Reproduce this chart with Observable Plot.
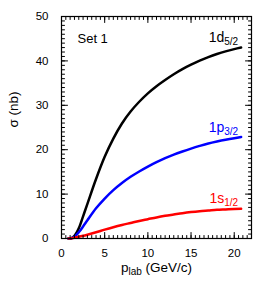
<!DOCTYPE html>
<html>
<head>
<meta charset="utf-8">
<script src="https://cdn.jsdelivr.net/npm/d3@7"></script>
<script src="https://cdn.jsdelivr.net/npm/@observablehq/plot@0.6"></script>
<style>
  html, body { margin: 0; padding: 0; background: #fff; }
  svg { display: block; }
</style>
</head>
<body>
<div id="chart"></div>
<script>
// ---- data ----
const pLab = [0.8, 1.1, 1.5, 2, 2.5, 3, 4, 5, 6, 7, 8, 9, 10, 11, 12, 13, 14, 15, 16, 17, 18, 19, 20, 20.8];
const sigma1d52 = [0, 0, 0.6, 2.3, 5.0, 7.8, 13.4, 18.4, 22.5, 25.9, 28.6, 30.8, 32.7, 34.3, 35.7, 37.0, 38.15, 39.15, 40.05, 40.85, 41.55, 42.15, 42.65, 43.0];
const sigma1p32 = [0, 0.05, 0.4, 1.4, 2.7, 4.1, 6.8, 9.0, 10.9, 12.5, 13.9, 15.1, 16.2, 17.2, 18.1, 18.9, 19.6, 20.25, 20.85, 21.4, 21.85, 22.25, 22.6, 22.85];
const sigma1s12 = [0, 0.05, 0.15, 0.4, 0.6, 0.85, 1.4, 2.0, 2.55, 3.05, 3.5, 3.95, 4.35, 4.75, 5.1, 5.4, 5.7, 5.95, 6.15, 6.3, 6.45, 6.55, 6.65, 6.7];

const seriesNames = ["1d5/2", "1p3/2", "1s1/2"];
const seriesMain = ["1d", "1p", "1s"];
const seriesSub = ["5/2", "3/2", "1/2"];
const seriesColors = ["#000000", "#0000ff", "#ff0000"];
const seriesValues = [sigma1d52, sigma1p32, sigma1s12];

const xMajorTicks = [0, 5, 10, 15, 20];
const yMajorTicks = [0, 10, 20, 30, 40, 50];
const xMinorTicks = d3.range(0, 22.01, 0.5);
const yMinorTicks = d3.range(0, 50.01, 1);
const setLabel = "Set 1";
const xLabel = "p_lab (GeV/c)";
const yLabel = "σ (nb)";

// ---- build table ----
const rows = [];
seriesNames.forEach((name, i) => {
  pLab.forEach((p, j) => rows.push({series: name, p, s: seriesValues[i][j]}));
});
const ends = seriesNames.map((name, i) => ({
  name, main: seriesMain[i], sub: seriesSub[i], color: seriesColors[i],
  p: pLab[pLab.length - 1], s: seriesValues[i][pLab.length - 1]
}));

const tickShape = {draw(ctx, l) { ctx.moveTo(0, 0); ctx.lineTo(0, -l); }};
const vt = (vals, ch, anchor, rot, len) =>
  Plot.vector(vals, {[ch]: d => d, frameAnchor: anchor, anchor: "start", rotate: rot, length: len, shape: tickShape, stroke: "black", strokeWidth: 1});

const plot = Plot.plot({
  width: 275,
  height: 297,
  marginLeft: 61,
  marginRight: 24,
  marginTop: 16,
  marginBottom: 59,
  style: {fontFamily: "'Liberation Sans', Arial, sans-serif", fontSize: "11.5px", color: "black", background: "white"},
  x: {domain: [0, 22]},
  y: {domain: [0, 50]},
  color: {domain: seriesNames, range: seriesColors},
  marks: [
    Plot.line(rows, {x: "p", y: "s", z: "series", stroke: "series", strokeWidth: 2.5, curve: "catmull-rom"}),
    Plot.frame({stroke: "black", strokeWidth: 1.2}),
    vt(xMinorTicks, "x", "bottom", 0, 3),
    vt(xMajorTicks, "x", "bottom", 0, 6),
    vt(xMinorTicks, "x", "top", 180, 3),
    vt(xMajorTicks, "x", "top", 180, 6),
    vt(yMinorTicks, "y", "left", 90, 3),
    vt(yMajorTicks, "y", "left", 90, 6),
    vt(yMinorTicks, "y", "right", -90, 3),
    vt(yMajorTicks, "y", "right", -90, 6),
    Plot.axisX(xMajorTicks, {tickSize: 0, tickPadding: 10, label: null, fontSize: 11.5}),
    Plot.axisY(yMajorTicks, {tickSize: 0, tickPadding: 13, label: null, fontSize: 11.5}),
    Plot.text([setLabel], {text: d => d, frameAnchor: "top-left", textAnchor: "start", dx: 16, dy: 17.5, fontSize: 13, fill: "black"}),
    Plot.text(ends, {x: "p", y: "s", text: "name", fill: "color", textAnchor: "end", dx: -3, dy: -10, fontSize: 14}),
    Plot.text([xLabel], {text: d => d, frameAnchor: "bottom", dy: 33.5, fontSize: 13.5, fill: "black"}),
    Plot.text([yLabel], {text: d => d, frameAnchor: "left", rotate: -90, dx: -47.5, dy: 0, fontSize: 13.5, fill: "black"})
  ]
});

// ---- subscripts as real tspans ----
const svg = d3.select(plot);
svg.selectAll("text").each(function() {
  const t = d3.select(this);
  const content = this.textContent;
  const idx = seriesNames.indexOf(content);
  if (idx >= 0) {
    t.text(null);
    t.append("tspan").text(seriesMain[idx]);
    t.append("tspan").attr("font-size", 10).attr("dy", "3").text(seriesSub[idx]);
  } else if (content === xLabel) {
    t.text(null);
    t.append("tspan").text("p");
    t.append("tspan").attr("font-size", 10).attr("dy", "3").text("lab");
    t.append("tspan").attr("dy", "-3").text(" (GeV/c)");
  }
});

document.getElementById("chart").appendChild(plot);
</script>
</body>
</html>
